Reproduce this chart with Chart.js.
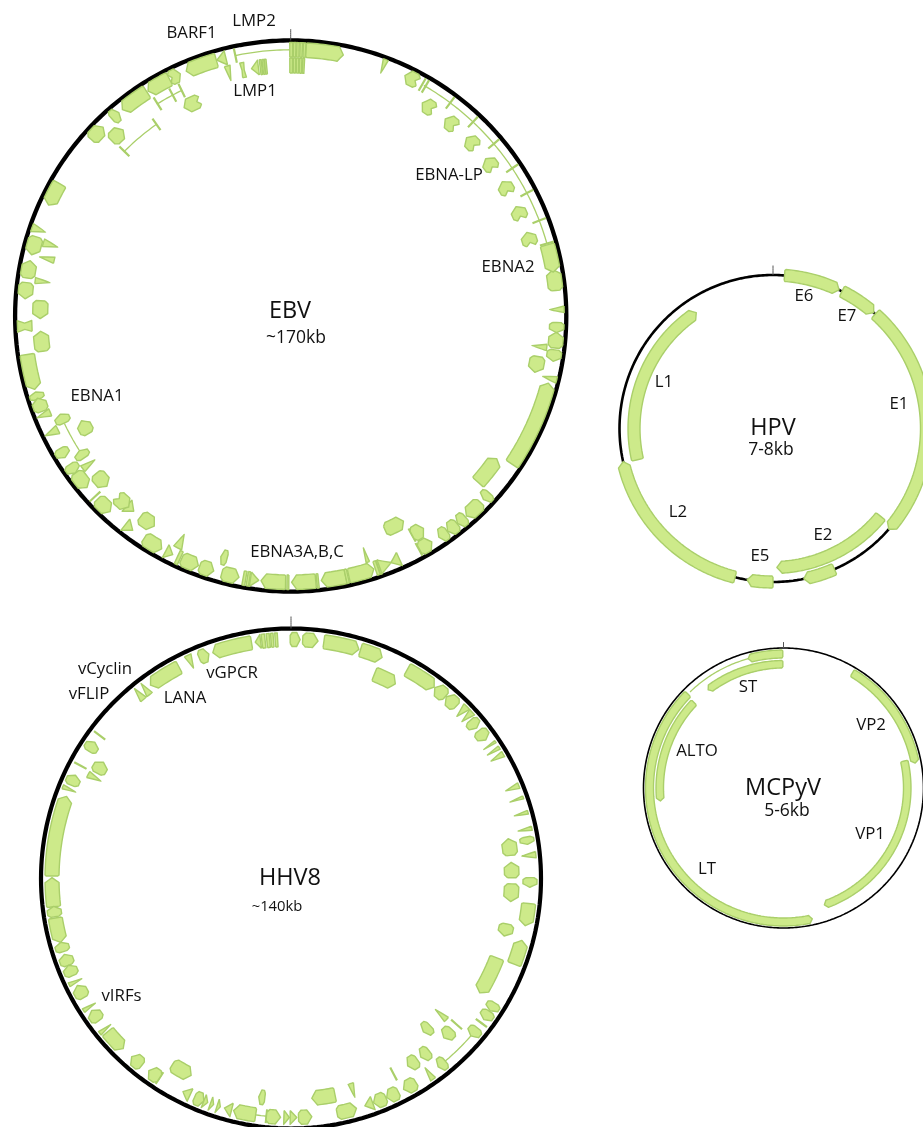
<!DOCTYPE html>
<html lang="en">
  <head>
    <meta charset="utf-8" />
    <title>Viral genome maps</title>
    <style>
      * {
        margin: 0;
        padding: 0;
      }
      body {
        background: white;
        overflow: hidden;
      }
      canvas {
        display: block;
      }
    </style>
  </head>
  <body>
    <canvas id="myChart" width="923" height="1127"></canvas>
    <script src="https://cdn.jsdelivr.net/npm/chart.js"></script>
    <script>
      // genes are [start deg, end deg, lane, kind], clockwise from the origin tick.
      // the arrow points from start to end.
      // kinds: a arrow, r block, t triangle, i/o wedge in/out, n notched, z zigzag
      const ebvGenes = [
        [-0.2, 0.4, 0, "r"], [0.6, 1.1, 0, "r"], [1.3, 1.8, 0, "r"], [2.0, 2.5, 0, "r"], [2.7, 3.2, 0, "r"],
        [-0.2, 0.4, 1, "r"], [0.6, 1.1, 1, "r"], [1.3, 1.8, 1, "r"], [2.0, 2.5, 1, "r"], [2.7, 3.1, 1, "r"],
        [3.3, 11.4, 0], [19.8, 20.9, 0, "i"],
        [28.6, 25.4, 0, "n"], [34.9, 31.7, 1, "n"], [41.3, 38.1, 1, "n"], [47.8, 44.6, 1, "n"],
        [54.3, 51.1, 1, "n"], [60.8, 57.6, 1, "n"], [67.3, 64.1, 1, "n"], [73.7, 70.5, 1, "n"],
        [74.5, 80.5, 0], [84.5, 80, 0],
        [87.9, 89.3, 0, "i"], [91.4, 93.6, 0], [96.9, 93.5, 0], [97.3, 99.8, 0], [99.3, 103, 1],
        [96.3, 97.7, 1, "i"], [102.8, 104.2, 0, "i"], [123.8, 104.6, 0], [131.6, 124.7, 1],
        [131.7, 133.6, 0], [134.5, 138.7, 0], [139, 141.2, 0], [141.3, 143.9, 0], [144, 146.2, 0],
        [156.2, 151.2, 2], [151, 148, 1], [151.1, 148, 0], [162.2, 163, 1, "i"], [155.9, 157.9, 0, "t"],
        [160.5, 157.8, 0, "t"], [161.5, 160.9, 0, "r"], [160.8, 160.4, 0, "r"], [167.4, 161.8, 0],
        [167.6, 168.1, 0, "r"], [168.1, 173.4, 0], [174, 174.4, 0, "r"], [174.6, 179.8, 0],
        [180.4, 180.8, 0, "r"], [181.1, 186.4, 0], [188.7, 186.9, 0, "t"], [189.4, 188.9, 0, "r"],
        [190.3, 189.7, 0, "r"], [195, 191.2, 0], [194.7, 196.2, 1], [200, 196.8, 0], [204.2, 200.3, 0],
        [204.5, 205.2, 0, "r"], [208, 206.3, 0, "t"], [205, 207, 1, "i"], [213.4, 209, 0], [216.8, 213, 1],
        [218.4, 216.4, 0, "t"], [224, 220.3, 1, "n"], [220.8, 218.8, 1, "t"], [226.5, 222.7, 0],
        [231, 227.2, 1], [233.9, 229.9, 0], [236.1, 233.9, 0], [232.9, 234.5, 1, "i"], [240.1, 237.9, 0],
        [235.5, 237.5, 1], [244.7, 246.9, 1], [243, 245, 0, "o"], [239.8, 243.4, 2], [247.3, 249, 0, "o"],
        [249, 252, 0], [251.8, 253.4, 0], [261.7, 254, 0], [261.9, 266.5, 1], [266.6, 269, 0, "z"],
        [273.5, 269.4, 1], [277.2, 273.7, 0], [278.2, 282, 0], [277.2, 278.6, 1, "i"], [282.5, 284, 1, "o"],
        [287.3, 283.3, 0], [285.6, 287.4, 1, "i"], [288, 289.8, 0, "i"], [299.8, 294.6, 0],
        [311.5, 315.2, 0], [314.4, 318, 1], [317.8, 319.8, 0], [327.3, 320.8, 0], [332.9, 327.6, 0],
        [332.9, 335.5, 0, "n"], [337.2, 332.9, 2, "n"], [343.8, 336.9, 0], [345.9, 343.9, 0, "t"],
        [345.1, 346.4, 1, "i"], [348.6, 349.5, 1, "z"], [352.6, 351, 1, "t"],
        [353, 353.4, 1, "r"], [353.6, 354, 1, "r"], [354.1, 354.5, 1, "r"],
      ];
      // ticks are [angle, lane], arcs are [start, end, lane]
      const ebvTicks = [
        [29.6, 0], [30.4, 0], [36.8, 0], [43.2, 0], [49.7, 0], [56.3, 0], [62.5, 0], [69, 0], [74.2, 0],
        [151, 1], [151.2, 0], [227.3, 0], [348, 0], [327.9, 1], [331.9, 1], [334.2, 1], [314.7, 2], [325, 2],
      ];
      const ebvArcs = [
        [30, 74.2, 0], [237.6, 244.6, 1], [348, 360, 0], [327.9, 334.2, 1], [314.7, 325, 2],
      ];

      const hhv8Genes = [
        [-0.2, 2.2, 0], [2.8, 6.5, 0], [7.9, 16.5, 0], [16.9, 22.4, 0], [22.2, 28.2, 1], [29.1, 36.8, 0],
        [40.3, 37, 0], [43.8, 40.5, 0], [44.7, 46.6, 0, "i"], [46.6, 48.3, 0, "i"], [48.6, 51, 0],
        [51.8, 54.6, 0], [55.9, 56.5, 0, "i"], [57.4, 58.3, 0, "i"], [58.9, 60.3, 0, "i"],
        [67.1, 68.5, 0, "i"], [70.4, 71.1, 0, "i"], [73.9, 74.8, 0, "i"], [77.7, 78.7, 0, "i"],
        [80, 81.8, 0], [84, 79.6, 1], [83.7, 85.2, 0, "i"], [89.8, 85.8, 1], [89.8, 92.1, 0],
        [91.4, 96, 1], [96, 101.4, 0], [101.9, 105.1, 1], [111, 105, 0], [111.1, 121.2, 1],
        [121.4, 123.6, 0], [123.8, 126.2, 0], [128.7, 131.2, 0], [139.8, 142, 0], [144, 145.4, 0, "i"],
        [133.2, 136.2, 1], [131.4, 133, 2, "i"], [136.6, 139.2, 2], [141.3, 144, 1], [145.1, 148.1, 1],
        [148.5, 151.9, 0], [153.3, 156.4, 0], [156.6, 159.8, 0], [160, 162, 0, "t"], [163, 164.5, 1, "o"],
        [168.5, 174.6, 1], [168.9, 164.1, 0], [178.2, 175, 0], [180.2, 178.6, 0, "t"], [181.7, 180.4, 0, "t"],
        [185.9, 182.5, 0], [188.5, 193.9, 0], [186.8, 188.4, 1], [194.4, 196.2, 0, "t"], [198, 197.2, 0, "t"],
        [199.7, 198.9, 0, "t"], [201.4, 200.4, 0, "t"], [203.8, 201.4, 0], [205, 206.9, 0, "t"],
        [212.5, 206.9, 1], [213.4, 216.5, 0], [218.6, 221.8, 0], [230.1, 224.6, 0], [230.5, 231.5, 0, "i"],
        [233.5, 236.5, 0], [237, 238, 0, "i"], [240.1, 243.4, 0], [243.9, 244.9, 0, "i"], [246, 248.7, 0],
        [248.7, 251.5, 0], [252.2, 254.5, 0], [260.5, 254.5, 0], [260.8, 263.3, 0], [263.2, 270.2, 0],
        [270.6, 290.1, 0], [291.4, 292.4, 0, "i"], [293, 295.6, 0], [296.3, 298, 1, "i"], [298.5, 301.8, 1],
        [302.2, 304.8, 0], [319.6, 321.4, 0, "o"], [321.6, 323.3, 0, "o"], [332.1, 324, 0],
        [334.3, 336, 0, "i"], [337.4, 339.9, 0], [350.5, 340.9, 0], [352.7, 351.4, 0, "t"],
        [353, 353.8, 0, "r"], [354.2, 354.9, 0, "r"], [355.2, 355.8, 0, "r"], [356.2, 356.8, 0, "r"],
      ];
      const hhv8Ticks = [
        [127.2, 0], [131.4, 1], [152.3, 1], [185.9, 0], [213.4, 0], [298.2, 0], [306.8, 0],
      ];
      const hhv8Arcs = [
        [130.5, 140, 0], [185.9, 188.5, 0],
      ];

      const hpvGenes = [
        [4.3, 25.5, 0], [26.7, 41, 0], [41.8, 131, 0], [129.2, 178.4, 1], [156.4, 168.4, 0],
        [180, 189.7, 0], [194.3, 257.5, 0], [257, 326.5, 1],
      ];

      const mcpyvGenes = [
        [359.7, 322.5, 1], [359.7, 344.7, 0], [314.5, 167.6, 0], [313.7, 264, 1],
        [30.9, 79.3, 0], [77.4, 160.7, 1],
      ];
      const mcpyvArcs = [
        [315.8, 344.7, 0],
      ];

      const ebvLabels = ["BARF1", "LMP2", "LMP1", "EBNA-LP", "EBNA2", "EBNA1", "EBNA3A,B,C"];
      const hhv8Labels = ["vCyclin", "vFLIP", "LANA", "vGPCR", "vIRFs"];
      const hpvLabels = ["E6", "E7", "E1", "L1", "L2", "E5", "E2"];
      const mcpyvLabels = ["ST", "VP2", "ALTO", "VP1", "LT"];

      // layout, in page pixels
      const maps = [
        {
          name: "EBV", size: "~170kb", sizeFont: 17.5, cx: 290.7, cy: 316, ring: 275.6, ringWidth: 4.3, tip: 5,
          lanes: [[259, 273.5], [243, 258], [227, 241]],
          genes: ebvGenes, ticks: ebvTicks, arcs: ebvArcs,
          labels: ebvLabels,
          labelAt: [[191.5, 33], [254, 21], [255, 91], [449, 175], [508, 267], [97, 396], [297, 552]],
          nameAt: [290, 311], sizeAt: [296, 338], originTo: 287,
        },
        {
          name: "HHV8", size: "~140kb", sizeFont: 14.8, cx: 291, cy: 878.5, ring: 250, ringWidth: 4.2, tip: 5,
          lanes: [[232, 246], [213.5, 228], [195, 210]],
          genes: hhv8Genes, ticks: hhv8Ticks, arcs: hhv8Arcs,
          labels: hhv8Labels,
          labelAt: [[105, 669], [89, 694], [185, 698], [232, 673], [121.5, 996]],
          nameAt: [290, 878], sizeAt: [277, 907], originTo: 262,
        },
        {
          name: "HPV", size: "7-8kb", sizeFont: 17.5, cx: 773, cy: 428.5, ring: 153.5, ringWidth: 2.6, tip: 5,
          lanes: [[147.5, 159.5], [133, 145]],
          genes: hpvGenes, ticks: [], arcs: [],
          labels: hpvLabels,
          labelAt: [[804, 296], [847, 316], [899, 404], [664, 382], [678, 512], [760, 556], [823, 535]],
          nameAt: [773, 428], sizeAt: [771, 450], originTo: 163,
        },
        {
          name: "MCPyV", size: "5-6kb", sizeFont: 17.5, cx: 783.5, cy: 788, ring: 140, ringWidth: 1.6, tip: 3,
          lanes: [[130, 138], [120, 127.5]],
          genes: mcpyvGenes, ticks: [], arcs: mcpyvArcs,
          labels: mcpyvLabels,
          labelAt: [[748, 687], [871, 725], [697, 751], [870, 834], [707, 869]],
          nameAt: [783, 788], sizeAt: [787, 811], originTo: 146,
        },
      ];

      const fillColor = "#cdea8a";
      const edgeColor = "#aacf6a";

      const polar = (m, deg, r) => {
        const a = (deg * Math.PI) / 180;
        return { x: m.cx + r * Math.sin(a), y: m.cy - r * Math.cos(a) };
      };

      // points along an arc at a fixed radius
      const sweep = (m, from, to, r) => {
        const n = Math.max(1, Math.ceil(Math.abs(to - from) / 1.5));
        const pts = [];
        for (let i = 0; i <= n; i++) pts.push(polar(m, from + ((to - from) * i) / n, r));
        return pts;
      };

      const outline = (m, gene) => {
        const [a, b, lane, kind = "a"] = gene;
        const [rIn, rOut] = m.lanes[lane];
        const rMid = (rIn + rOut) / 2;
        const mid = (a + b) / 2;
        const dir = Math.sign(b - a);
        const span = Math.abs(b - a);
        const perPx = 57.3 / rMid;
        const tip = Math.min(m.tip * perPx, span * 0.35) * dir;
        let pts;
        if (kind === "r") {
          pts = [...sweep(m, a, b, rIn), ...sweep(m, b, a, rOut)];
        } else if (kind === "t") {
          pts = [polar(m, a, rIn), polar(m, b, rMid), polar(m, a, rOut)];
        } else if (kind === "i") {
          pts = [polar(m, a, rOut), polar(m, b, rOut), polar(m, mid, rIn)];
        } else if (kind === "o") {
          pts = [polar(m, a, rIn), polar(m, b, rIn), polar(m, mid, rOut)];
        } else if (kind === "z") {
          const dent = span * 0.22 * dir;
          pts = [
            polar(m, a, rIn), polar(m, b, rIn), polar(m, b - dent, rMid), polar(m, b, rOut),
            polar(m, a, rOut), polar(m, a + dent, rMid),
          ];
        } else {
          // short genes have cut rear corners in the picture, long ones nearly square
          const cut = span / perPx < 22 ? 3 : 1;
          const back = a + Math.min(cut * perPx, span * 0.2) * dir;
          pts = [
            polar(m, a, rIn + cut), ...sweep(m, back, b - tip, rIn), polar(m, b, rMid),
            ...sweep(m, b - tip, back, rOut), polar(m, a, rOut - cut),
          ];
          if (kind === "n") pts.push(polar(m, a + tip * 0.7, rMid));
        }
        pts.push(pts[0]);
        return pts;
      };

      // build all datasets from the tables above
      const datasets = [];
      maps.forEach((m) => {
        datasets.push({
          data: sweep(m, 0, 360, m.ring),
          borderColor: "#000000",
          borderWidth: m.ringWidth,
          order: 3,
        });
        datasets.push({
          data: [polar(m, 0, m.ring), polar(m, 0, m.originTo)],
          borderColor: "#555555",
          borderWidth: 1,
          order: 2,
        });
        m.genes.forEach((g) => {
          datasets.push({
            data: outline(m, g),
            borderColor: edgeColor,
            backgroundColor: fillColor,
            borderWidth: 1.4,
            borderJoinStyle: "round",
            fill: "shape",
            order: 1,
          });
        });
        m.arcs.forEach(([a, b, lane]) => {
          const [rIn, rOut] = m.lanes[lane];
          datasets.push({
            data: sweep(m, a, b, (rIn + rOut) / 2),
            borderColor: edgeColor,
            borderWidth: 1.3,
            order: 1,
          });
        });
        m.ticks.forEach(([a, lane]) => {
          const [rIn, rOut] = m.lanes[lane];
          datasets.push({
            data: [polar(m, a, rIn), polar(m, a, rOut)],
            borderColor: edgeColor,
            borderWidth: 2.2,
            order: 1,
          });
        });
      });

      // gene names and genome titles
      const mapLabels = {
        id: "mapLabels",
        afterDatasetsDraw(chart) {
          const { ctx, scales: { x, y } } = chart;
          const put = (text, at, font) => {
            ctx.font = font;
            ctx.fillText(text, x.getPixelForValue(at[0]), y.getPixelForValue(at[1]));
          };
          ctx.save();
          ctx.fillStyle = "#111111";
          ctx.textAlign = "center";
          ctx.textBaseline = "middle";
          maps.forEach((m) => {
            m.labels.forEach((t, i) => put(t, m.labelAt[i], "16.8px 'Open Sans'"));
            put(m.name, m.nameAt, "23.5px 'Open Sans'");
            put(m.size, m.sizeAt, m.sizeFont + "px 'Open Sans'");
          });
          ctx.restore();
        },
      };

      const config = {
        type: "scatter",
        data: { datasets },
        options: {
          responsive: false,
          animation: false,
          showLine: true,
          pointRadius: 0,
          layout: { padding: 0 },
          // a tiny tension keeps Chart.js off its fast path, which merges points sharing an x pixel
          elements: { point: { radius: 0 }, line: { tension: 0.0001, capBezierPoints: false } },
          plugins: { legend: { display: false }, tooltip: { enabled: false } },
          scales: {
            x: { type: "linear", min: 0, max: 923, display: false },
            y: { type: "linear", min: 0, max: 1127, reverse: true, display: false },
          },
        },
        plugins: [mapLabels],
      };

      const myChart = new Chart(document.getElementById("myChart"), config);
    </script>
  </body>
</html>
